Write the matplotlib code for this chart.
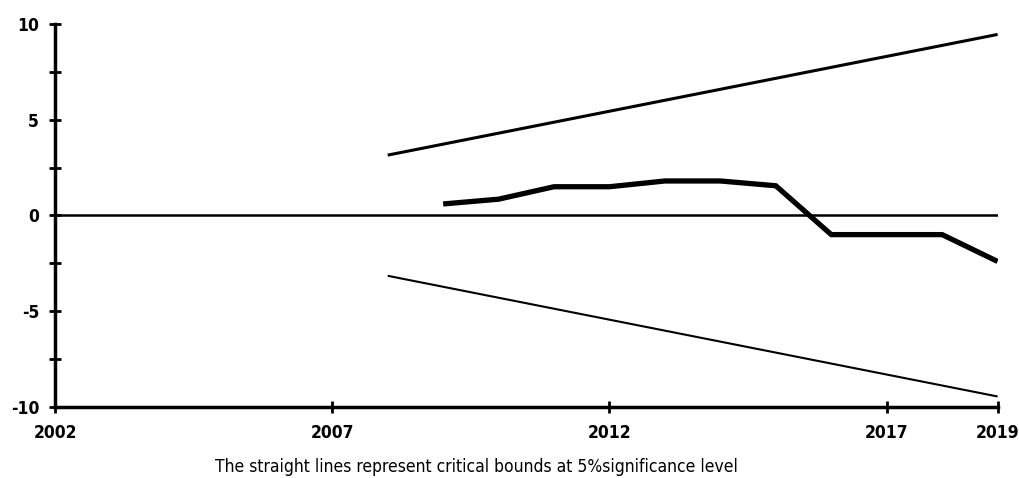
import matplotlib
matplotlib.use("Agg")
import matplotlib.pyplot as plt
from matplotlib.ticker import MultipleLocator

plt.rcParams["axes.unicode_minus"] = False

# CUSUM statistic by year
years = [2009, 2010, 2011, 2012, 2013, 2014, 2015, 2016, 2017, 2018, 2019]
cusum = [0.6, 0.85, 1.5, 1.5, 1.8, 1.8, 1.55, -1.0, -1.0, -1.0, -2.4]

# 5% critical bounds (straight lines)
bound_years = [2008, 2019]
upper = [3.15, 9.45]
lower = [-3.15, -9.45]

xticks = [2002, 2007, 2012, 2017, 2019]
yticks = [-10, -5, 0, 5, 10]

fig = plt.figure(figsize=(10.19, 4.78), dpi=100)
ax = fig.add_axes([0.054, 0.1485, 0.925, 0.8015])

ax.plot(bound_years, upper, color="black", lw=2.2, solid_capstyle="butt")
ax.plot(bound_years, lower, color="black", lw=1.5, solid_capstyle="butt")
ax.axhline(0, color="black", lw=1.8)
ax.plot(years, cusum, color="black", lw=3.8, solid_joinstyle="miter", solid_capstyle="butt")

ax.set_xlim(2002, 2019)
ax.set_ylim(-10, 10)
ax.set_xticks(xticks)
ax.set_yticks(yticks)
ax.yaxis.set_minor_locator(MultipleLocator(2.5))

for side in ["top", "right"]:
    ax.spines[side].set_visible(False)
for side in ["left", "bottom"]:
    ax.spines[side].set_linewidth(2.5)
    ax.spines[side].set_clip_on(False)

ax.tick_params(axis="both", which="both", direction="inout", length=9, width=2, color="black")
ax.tick_params(axis="y", which="major", pad=7)
ax.tick_params(axis="x", which="major", pad=8)
for lbl in ax.get_xticklabels() + ax.get_yticklabels():
    lbl.set_fontweight("bold")
    lbl.set_fontsize(12.5)
    lbl.set_family("DejaVu Sans")
    lbl.set_fontstretch("condensed")

fig.text(0.468, 0.012, "The straight lines represent critical bounds at 5%significance level",
         ha="center", va="baseline", fontsize=12.5, family="DejaVu Sans",
         fontstretch="condensed")

fig.savefig("out.png", dpi=100)
